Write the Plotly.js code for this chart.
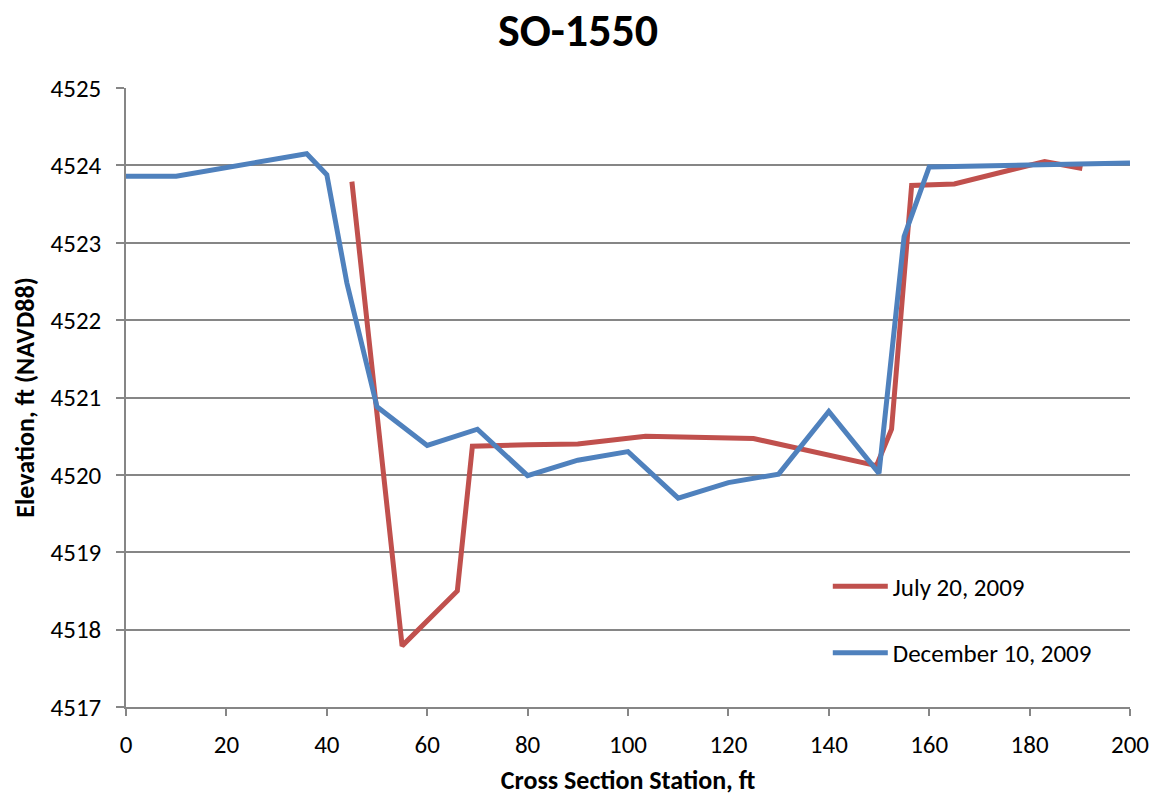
<!DOCTYPE html>
<html>
<head>
<meta charset="utf-8">
<script src="https://cdn.plot.ly/plotly-3.0.1.min.js"></script>
<style>html,body{margin:0;padding:0;background:#fff;}#chart{width:1156px;height:796px;}</style>
</head>
<body>
<div id="chart"></div>
<script>
var julyStation = [45, 55, 66, 69, 80, 90, 103.5, 125, 149.5, 152.5, 156.5, 165, 183, 190.5];
var julyElev = [4523.79, 4517.79, 4518.50, 4520.37, 4520.39, 4520.40, 4520.50, 4520.47, 4520.12, 4520.59, 4523.74, 4523.76, 4524.05, 4523.96];
var decStation = [0, 10, 36, 40, 44, 50, 60, 70, 80, 90, 100, 110, 120, 130, 140, 150, 155, 160, 200];
var decElev = [4523.86, 4523.86, 4524.15, 4523.88, 4522.48, 4520.88, 4520.38, 4520.59, 4519.99, 4520.19, 4520.30, 4519.70, 4519.90, 4520.01, 4520.82, 4520.02, 4523.08, 4523.98, 4524.03];
var xTicks = [0, 20, 40, 60, 80, 100, 120, 140, 160, 180, 200];
var yTicks = [4517, 4518, 4519, 4520, 4521, 4522, 4523, 4524, 4525];

var font = "Calibri, Carlito, Lato, sans-serif";
var traces = [
  {x: julyStation, y: julyElev, type: 'scatter', mode: 'lines', name: 'July 20, 2009',
   legendgroup: 'a', line: {color: '#C0504D', width: 5}},
  {x: decStation, y: decElev, type: 'scatter', mode: 'lines', name: 'December 10, 2009',
   legendgroup: 'b', line: {color: '#4F81BD', width: 5}}
];
var layout = {
  width: 1156, height: 796,
  margin: {l: 126, r: 26, t: 88, b: 89},
  paper_bgcolor: '#fff', plot_bgcolor: '#fff',
  font: {family: font, color: '#000', size: 25},
  title: {text: '<b>SO-1550</b>', font: {size: 46, family: font}, x: 0.5, xanchor: 'center', y: 0.963, yanchor: 'middle'},
  xaxis: {
    range: [0, 200], tickvals: xTicks, ticktext: xTicks.map(String),
    showgrid: false, zeroline: false, showline: true, linecolor: '#868686', linewidth: 1.5,
    ticks: 'outside', ticklen: 7, tickcolor: '#868686', tickwidth: 1.5,
    tickfont: {size: 25}, ticklabelstandoff: 7,
    title: {text: '<b>Cross Section Station, ft</b>', font: {size: 26}, standoff: 12}
  },
  yaxis: {
    range: [4517, 4525], tickvals: yTicks, ticktext: yTicks.map(String),
    showgrid: true, gridcolor: '#868686', gridwidth: 1.5, zeroline: false,
    showline: true, linecolor: '#868686', linewidth: 1.5,
    ticks: 'outside', ticklen: 8, tickcolor: '#868686', tickwidth: 1.5,
    tickfont: {size: 25}, ticklabelstandoff: 10,
    title: {text: '<b>Elevation, ft (NAVD88)</b>', font: {size: 26}, standoff: 8}
  },
  showlegend: true,
  legend: {x: 0.699, y: 0.232, xanchor: 'left', yanchor: 'top', bgcolor: 'rgba(0,0,0,0)',
    traceorder: 'grouped', tracegroupgap: 31, itemwidth: 55, font: {size: 25}}
};
Plotly.newPlot('chart', traces, layout, {displayModeBar: false});
</script>
</body>
</html>
